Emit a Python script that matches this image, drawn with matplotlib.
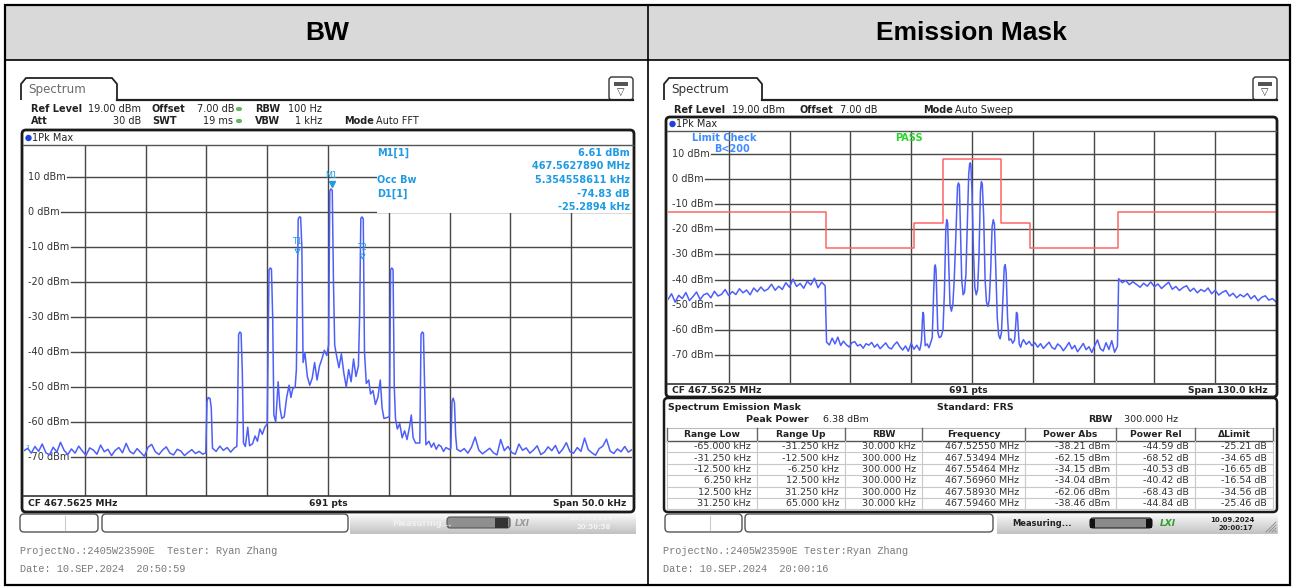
import matplotlib
matplotlib.use("Agg")
import matplotlib.pyplot as plt
import numpy as np
from matplotlib.colors import LinearSegmentedColormap
from matplotlib.patches import FancyBboxPatch, Rectangle, Circle, Polygon
from matplotlib.transforms import blended_transform_factory

W, H = 1294, 587
GRID = "#474747"
TRACE = "#4d5ff8"
INFO = "#1e9be3"
LIMIT = "#ff6464"
SANS = "DejaVu Sans"
MONO = "Liberation Mono"

level_ticks = [10, 0, -10, -20, -30, -40, -50, -60, -70]
ref_level, bottom_level = 19, -81

# ---------- BW screen: offsets in kHz from CF 467.5625 MHz ----------
bw_span_khz = 50.0
bw_left_run_khz = (-25.0, -10.3)
bw_left_run_dbm = [
    -68.2, -67.5, -68.9, -67.0, -68.4, -66.3, -68.8, -69.4, -67.2, -68.6,
    -65.8, -68.1, -69.3, -67.7, -68.9, -66.9, -68.3, -69.5, -67.4, -68.0,
    -69.2, -66.6, -68.5, -67.8, -69.6, -68.1, -67.3, -68.8, -66.1, -68.4,
    -69.1, -67.6, -68.7, -69.8, -67.2, -66.4, -68.5, -69.3, -68.0, -67.1,
    -68.9, -69.4, -67.8, -68.3, -69.6, -68.7, -67.9, -69.0, -68.4, -69.2,
]
bw_core_khz = [
    -10.05, -9.95, -9.85, -9.7, -9.6, -9.5,
    -9.2, -8.9, -8.6, -8.3, -8.0, -7.7, -7.5,
    -7.45, -7.35, -7.25, -7.15, -7.05, -6.95,
    -6.8, -6.6, -6.45, -6.2, -6.0, -5.8, -5.6, -5.4, -5.2, -5.0,
    -4.95, -4.85, -4.75, -4.65, -4.55, -4.45,
    -4.3, -4.1, -3.95, -3.8, -3.6, -3.4, -3.2, -3.05, -2.9, -2.7,
    -2.6, -2.45, -2.35, -2.25, -2.15, -2.05,
    -1.9, -1.7, -1.5, -1.3, -1.1, -0.9, -0.7, -0.5, -0.3, -0.1,
    0.05, 0.15, 0.25, 0.35, 0.45, 0.55,
    0.7, 0.9, 1.1, 1.3, 1.5, 1.7, 1.9, 2.1, 2.3, 2.5,
    2.6, 2.7, 2.8, 2.9, 3.0,
    3.15, 3.35, 3.5, 3.7, 3.9, 4.1, 4.3, 4.45, 4.6,
    5.05, 5.15, 5.25, 5.35, 5.45, 5.55,
    5.7, 5.9, 6.1, 6.3, 6.5, 6.7, 6.85, 7.0, 7.2,
    7.55, 7.65, 7.75, 7.85, 7.95, 8.05,
    8.3, 8.5, 8.7, 8.9, 9.1, 9.3, 9.5, 9.7, 10.0,
    10.1, 10.2, 10.3, 10.4, 10.5, 10.6,
]
bw_core_dbm = [
    -68.8, -54.0, -53.0, -53.3, -56.0, -67.5,
    -68.4, -66.9, -68.1, -67.3, -68.6, -67.4, -67.0,
    -60.0, -35.0, -34.3, -34.6, -45.0, -66.0,
    -67.0, -61.5, -66.8, -66.2, -64.0, -65.5, -62.0, -63.5, -61.5, -60.5,
    -45.0, -16.5, -16.0, -16.3, -30.0, -58.0,
    -60.0, -48.5, -56.0, -59.0, -58.5, -53.0, -49.5, -53.0, -50.5, -50.0,
    -45.0, -2.0, -1.4, -1.5, -10.0, -43.0,
    -40.2, -47.0, -49.5, -47.5, -43.0, -48.0, -44.0, -42.0, -39.5, -41.0,
    -38.0, 6.0, 6.61, 6.2, -20.0, -38.0,
    -41.0, -44.5, -40.5, -46.0, -50.0, -45.0, -48.5, -42.0, -47.0, -44.0,
    -30.0, -1.8, -1.4, -2.0, -40.0,
    -49.0, -48.0, -52.0, -51.0, -55.0, -53.0, -48.0, -56.0, -59.0,
    -58.5, -16.5, -16.0, -16.5, -50.0, -59.0,
    -62.0, -60.5, -64.5, -62.5, -65.0, -61.5, -58.0, -64.5, -66.0,
    -66.0, -35.0, -34.3, -34.6, -50.0, -66.5,
    -65.5, -67.2, -66.0, -67.8, -66.5, -67.0, -68.4, -67.3, -67.9,
    -67.5, -54.0, -53.2, -54.5, -64.0, -67.8,
]
bw_right_run_khz = (10.9, 25.0)
bw_right_run_dbm = [
    -68.4, -67.6, -68.9, -67.2, -64.3, -68.0, -69.1, -68.3, -67.5, -68.8,
    -69.4, -65.0, -68.2, -67.0, -68.7, -69.2, -66.3, -68.1, -67.4, -68.9,
    -68.0, -66.8, -69.3, -68.6, -67.1, -68.2, -66.7, -69.0, -67.8, -65.9,
    -68.5, -68.9, -67.3, -68.4, -64.6, -67.9, -68.8, -69.5, -67.6, -66.9,
    -64.9, -68.3, -69.0, -67.7, -68.5, -67.0, -68.6, -67.9,
]
bw_m1 = (0.29, 6.61)
bw_t1 = (-2.55, -9.8)
bw_t2 = (2.8, -11.3)
bw_info_left = ["M1[1]", "", "Occ Bw", "D1[1]", ""]
bw_info_right = ["6.61 dBm", "467.5627890 MHz", "5.354558611 kHz", "-74.83 dB", "-25.2894 kHz"]

# ---------- Emission mask screen ----------
sem_span_khz = 130.0
sem_runs_khz = [(-65.0, -31.4), (-31.1, -11.2), (11.0, 31.1), (31.35, 65.0)]
sem_far_left_dbm = [
    -47.8, -45.6, -48.9, -46.2, -47.5, -45.1, -48.3, -46.7, -44.9, -47.9,
    -46.0, -45.4, -47.2, -44.6, -46.5, -45.8, -43.9, -46.3, -44.7, -45.9,
    -43.6, -45.2, -44.1, -46.0, -43.3, -44.8, -42.9, -44.5, -43.7, -41.8,
    -44.2, -42.6, -43.9, -41.2, -43.0, -39.8, -42.7, -41.5, -43.4, -40.6,
    -42.1, -39.4, -43.2, -41.0, -42.4,
]
sem_near_left_dbm = [
    -64.8, -65.9, -63.2, -65.5, -62.8, -66.1, -64.4, -65.8, -66.7, -65.0,
    -64.6, -66.3, -65.7, -67.2, -65.4, -66.0, -64.9, -66.8, -65.6, -67.4,
    -66.2, -65.1, -66.9, -67.5, -65.8, -64.7, -66.6, -67.9, -66.3, -68.4,
    -65.2, -67.6, -66.0, -68.0,
]
sem_core_khz = [
    -11.0, -10.8, -10.6, -10.5, -10.35, -10.2, -10.0,
    -9.6, -9.2, -8.8, -8.5, -8.2, -8.0, -7.85, -7.7, -7.5, -7.3,
    -7.0, -6.6, -6.2, -5.9, -5.6, -5.4, -5.2, -5.0, -4.7,
    -4.4, -4.1, -3.8, -3.4, -3.1, -2.9, -2.7, -2.5, -2.2,
    -1.9, -1.6, -1.3, -1.0, -0.7, -0.5, -0.38, -0.25, 0.0,
    0.3, 0.6, 0.9, 1.2, 1.5, 1.8, 2.0, 2.2, 2.5,
    2.8, 3.1, 3.4, 3.7, 4.0, 4.3, 4.55, 4.8, 5.1,
    5.4, 5.7, 6.0, 6.3, 6.6, 6.9, 7.1, 7.3, 7.6,
    7.9, 8.3, 8.7, 9.1, 9.35, 9.5, 9.7, 9.9, 10.1, 10.4, 10.7,
]
sem_core_dbm = [
    -66.5, -64.0, -56.0, -53.0, -53.5, -60.0, -66.2,
    -65.5, -67.0, -64.8, -63.0, -45.0, -35.0, -34.15, -36.0, -48.0, -61.0,
    -63.0, -62.5, -60.0, -45.0, -20.0, -16.2, -17.5, -32.0, -50.0,
    -52.5, -50.0, -40.0, -20.0, -3.0, -1.6, -2.5, -18.0, -40.0,
    -46.0, -45.0, -38.0, -18.0, 2.0, 6.0, 6.38, 5.5, -5.0,
    -28.0, -43.0, -46.0, -44.0, -30.0, -5.0, -1.1, -2.0, -15.0,
    -40.0, -49.0, -50.6, -48.0, -36.0, -19.0, -16.2, -18.0, -36.0,
    -55.0, -62.0, -63.5, -61.0, -48.0, -35.0, -34.04, -37.0, -55.0,
    -64.0, -63.5, -65.2, -64.0, -58.0, -53.0, -53.5, -60.0, -65.5, -66.8, -64.9,
]
sem_near_right_dbm = [
    -63.8, -65.7, -64.5, -66.2, -65.0, -66.8, -65.4, -67.3, -66.0, -64.8,
    -66.9, -67.6, -65.5, -66.4, -68.2, -66.7, -64.9, -67.5, -66.1, -68.6,
    -67.0, -65.3, -67.8, -66.6, -68.9, -66.2, -63.9, -67.4, -68.3, -65.0,
    -67.7, -64.2, -68.8, -66.4,
]
sem_far_right_dbm = [
    -39.6, -41.2, -40.3, -42.0, -40.8, -41.9, -43.0, -41.4, -42.6, -40.9,
    -42.8, -41.7, -43.5, -42.2, -41.0, -43.8, -42.7, -44.3, -43.1, -42.4,
    -44.6, -43.4, -45.2, -43.9, -44.7, -43.3, -45.6, -44.2, -46.1, -45.0,
    -44.3, -46.5, -45.4, -47.2, -45.9, -46.8, -45.5, -47.6, -46.3, -48.4,
    -47.0, -46.4, -48.1, -47.5, -48.8,
]
sem_limit_khz = [-65, -31.25, -31.25, -12.5, -12.5, -6.25, -6.25, 6.25,
                 6.25, 12.5, 12.5, 31.25, 31.25, 65]
sem_limit_dbm = [-13, -13, -27.5, -27.5, -17.5, -17.5, 7.7, 7.7,
                 -17.5, -17.5, -27.5, -27.5, -13, -13]

# emission mask result table
sem_range_low_khz = [-65.0, -31.25, -12.5, 6.25, 12.5, 31.25]
sem_range_up_khz = [-31.25, -12.5, -6.25, 12.5, 31.25, 65.0]
sem_rbw = ["30.000 kHz", "300.000 Hz", "300.000 Hz", "300.000 Hz", "300.000 Hz", "30.000 kHz"]
sem_freq_mhz = [467.52550, 467.53494, 467.55464, 467.56960, 467.58930, 467.59460]
sem_power_abs = [-38.21, -62.15, -34.15, -34.04, -62.06, -38.46]
sem_power_rel = [-44.59, -68.52, -40.53, -40.42, -68.43, -44.84]
sem_delta_limit = [-25.21, -34.65, -16.65, -16.54, -34.56, -25.46]


def sweep(run, levels):
    return np.linspace(run[0], run[1], len(levels)), np.asarray(levels, float)


fig = plt.figure(figsize=(W / 100, H / 100), dpi=100)
fig.patch.set_facecolor("white")
renderer = fig.canvas.get_renderer()

ax_top = fig.add_axes([0, 0, 1, 1], zorder=5)
ax_top.set_xlim(0, W)
ax_top.set_ylim(H, 0)
ax_top.axis("off")
ax_top.patch.set_alpha(0)


def rect(x0, y0, x1, y1, **kw):
    ax_top.add_patch(Rectangle((x0, y0), x1 - x0, y1 - y0, **kw))


def rbox(x0, y0, x1, y1, r=3, **kw):
    ax_top.add_patch(FancyBboxPatch((x0, y0), x1 - x0, y1 - y0,
                                    boxstyle=f"round,pad=0,rounding_size={r}", **kw))


def txt(x, y, s, size=7, weight="normal", color="#222222", ha="left", family=SANS, **kw):
    ax_top.text(x, y, s, fontsize=size, fontweight=weight, color=color, ha=ha,
                va="center", family=family, **kw)


def spectrum_axes(l, t, r, b, span):
    ax = fig.add_axes([l / W, 1 - b / H, (r - l) / W, (b - t) / H], zorder=2)
    ax.set_xlim(-span / 2, span / 2)
    ax.set_ylim(bottom_level, ref_level)
    ax.set_xticks([])
    ax.set_yticks([])
    for s in ax.spines.values():
        s.set_visible(False)
    for k in range(1, 10):
        ax.axvline(-span / 2 + k * span / 10, color=GRID, lw=1.0, zorder=1)
    tr = blended_transform_factory(ax.transAxes, ax.transData)
    for lv in level_ticks:
        t_ = ax.text(0.007, lv, f"{lv} dBm", transform=tr, fontsize=7, color="#333333",
                     va="center", ha="left", zorder=2)
        bb = t_.get_window_extent(renderer)
        x_end = ax.transAxes.inverted().transform((bb.x1 + 1, 0))[0]
        ax.plot([x_end, 1], [lv, lv], transform=tr, color=GRID, lw=1.0, zorder=1)
    return ax


# ---------- table frame ----------
rect(5, 5, 1290, 60, facecolor="#d9d9d9", edgecolor="none", zorder=0)
rect(5, 5, 1290, 585, facecolor="none", edgecolor="black", lw=1.6)
ax_top.plot([5, 1290], [60, 60], color="black", lw=1.2)
ax_top.plot([648, 648], [5, 585], color="black", lw=1.2)
txt(327, 33, "BW", size=19, weight="bold", color="black", ha="center", family="Liberation Sans")
txt(971, 33, "Emission Mask", size=19, weight="bold", color="black", ha="center",
    family="Liberation Sans")

gradient = LinearSegmentedColormap.from_list("bar", ["#fbfbfb", "#c2c2c2"])


def screen_chrome(x0, x1, tab_right, tab_color):
    # tab + window top line + icon
    ax_top.add_patch(Polygon([(x0 - 1, 100), (x0 - 1, 84), (x0 + 4, 78), (tab_right - 5, 78),
                              (tab_right, 84), (tab_right, 100)], closed=False,
                             fill=False, edgecolor="#222222", lw=1.3))
    ax_top.plot([tab_right, x1], [100, 100], color="#222222", lw=1.6)
    txt(x0 + 6, 89, "Spectrum", size=8.6, color=tab_color)
    rbox(x1 - 24, 77, x1, 100, r=3, facecolor="white", edgecolor="#333333", lw=1.0)
    rect(x1 - 19, 82, x1 - 5, 86, facecolor="#555555", edgecolor="none")
    txt(x1 - 12, 92, "\u25bd", size=7, color="#333333", ha="center")


# ================= left: BW =================
screen_chrome(22, 633, 117, "#6b6b6b")
hdr_y1, hdr_y2 = 109, 121
txt(31, hdr_y1, "Ref Level", weight="bold")
txt(88, hdr_y1, "19.00 dBm")
txt(152, hdr_y1, "Offset", weight="bold")
txt(197, hdr_y1, "7.00 dB")
txt(255, hdr_y1, "RBW", weight="bold")
txt(288, hdr_y1, "100 Hz")
txt(31, hdr_y2, "Att", weight="bold")
txt(141, hdr_y2, "30 dB", ha="right")
txt(152, hdr_y2, "SWT", weight="bold")
txt(233, hdr_y2, "19 ms", ha="right")
txt(255, hdr_y2, "VBW", weight="bold")
txt(295, hdr_y2, "1 kHz")
txt(344, hdr_y2, "Mode", weight="bold")
txt(376, hdr_y2, "Auto FFT")
for yy in (hdr_y1, hdr_y2):
    ax_top.add_patch(FancyBboxPatch((236, yy - 2), 6, 4, boxstyle="round,pad=0,rounding_size=2",
                                    facecolor="#5fb85f", edgecolor="none"))

rbox(22, 130, 634, 512, r=4, facecolor="none", edgecolor="#1a1a1a", lw=2.0)
ax_top.plot([23, 633], [144.5, 144.5], color="#555555", lw=1.0)
ax_top.add_patch(Circle((28.5, 138), 3.2, facecolor="#1f3fe0", edgecolor="none"))
txt(32.5, 138, "1Pk Max", size=7)
ax_top.plot([23, 633], [496, 496], color="#333333", lw=1.2)
txt(28, 503.5, "CF 467.5625 MHz", size=6.6, weight="bold")
txt(328, 503.5, "691 pts", size=6.6, weight="bold", ha="center")
txt(626, 503.5, "Span 50.0 kHz", size=6.6, weight="bold", ha="right")

ax_bw = spectrum_axes(24, 145.5, 632, 495.5, bw_span_khz)
fl, vl = sweep(bw_left_run_khz, bw_left_run_dbm)
fr, vr = sweep(bw_right_run_khz, bw_right_run_dbm)
bw_f = np.concatenate([fl, bw_core_khz, fr])
bw_v = np.concatenate([vl, bw_core_dbm, vr])
ax_bw.plot(bw_f, bw_v, color=TRACE, lw=1.1, zorder=3)
ax_bw.plot([bw_m1[0]], [bw_m1[1] + 1.3], marker="v", ms=4.5, color=INFO, zorder=4)
ax_bw.text(bw_m1[0], bw_m1[1] + 2.6, "M1", fontsize=5.8, color=INFO, ha="center", va="bottom", zorder=4)
for lbl, (mf, mv) in (("T1", bw_t1), ("T2", bw_t2)):
    ax_bw.text(mf, mv, lbl, fontsize=5.8, color=INFO, ha="center", va="bottom", zorder=4)
    ax_bw.plot([mf], [mv - 1.3], marker="v", ms=3.5, mfc="none", mec=INFO, mew=0.7, zorder=4)
ax_bw.text(0.002, -68.2, "1", fontsize=5, color=INFO, ha="left", va="bottom",
           transform=blended_transform_factory(ax_bw.transAxes, ax_bw.transData), zorder=4)

# marker readout box
rect(377, 145.8, 631.5, 212.8, facecolor="white", edgecolor="none", zorder=1)
for i, (a, b) in enumerate(zip(bw_info_left, bw_info_right)):
    yy = 152.5 + i * 13.7
    if a:
        txt(377, yy, a, size=7, weight="bold", color=INFO)
    txt(630, yy, b, size=7, weight="bold", color=INFO, ha="right")

# status bar
ax_top.imshow(np.linspace(0, 1, 24)[:, None], extent=(350, 636, 534, 513), cmap=gradient,
              aspect="auto", zorder=0.5)
rbox(20, 514, 98, 532, r=4, facecolor="white", edgecolor="#555555", lw=1.0)
ax_top.plot([65, 65], [516, 530], color="#cccccc", lw=0.8)
rbox(102, 514, 348, 532, r=4, facecolor="white", edgecolor="#555555", lw=1.0)
txt(392, 523, "Measuring...", size=6, weight="bold", color="#f0f0f0")
rbox(447, 517, 510, 528, r=3, facecolor="#8f8f8f", edgecolor="#555555", lw=0.8)
rect(495, 517.5, 508, 527.5, facecolor="#333333", edgecolor="none")
txt(522, 523, "LXI", size=6, weight="bold", color="#999999", ha="center", style="italic")
txt(590, 518, "10.09.2024", size=5, weight="bold", color="#f4f4f4", ha="center")
txt(594, 527, "20:50:58", size=5, weight="bold", color="#f4f4f4", ha="center")

txt(20, 550.5, "ProjectNo.:2405W23590E  Tester: Ryan Zhang", size=7.4, color="#7a7a7a", family=MONO)
txt(20, 568.5, "Date: 10.SEP.2024  20:50:59", size=7.4, color="#7a7a7a", family=MONO)

# ================= right: Emission mask =================
screen_chrome(665, 1277, 762, "#333333")
txt(674, 110, "Ref Level", weight="bold")
txt(732, 110, "19.00 dBm")
txt(800, 110, "Offset", weight="bold")
txt(840, 110, "7.00 dB")
txt(923, 110, "Mode", weight="bold")
txt(955, 110, "Auto Sweep")

rbox(666, 117, 1277, 397, r=4, facecolor="none", edgecolor="#1a1a1a", lw=2.0)
ax_top.plot([667, 1276], [130.5, 130.5], color="#555555", lw=1.0)
ax_top.add_patch(Circle((672.5, 124), 3.2, facecolor="#1f3fe0", edgecolor="none"))
txt(676.5, 124, "1Pk Max", size=7)
ax_top.plot([667, 1276], [383.5, 383.5], color="#333333", lw=1.2)
txt(672, 390.5, "CF 467.5625 MHz", size=6.6, weight="bold")
txt(968, 390.5, "691 pts", size=6.6, weight="bold", ha="center")
txt(1268, 390.5, "Span 130.0 kHz", size=6.6, weight="bold", ha="right")

ax_sem = spectrum_axes(668, 131, 1276, 383, sem_span_khz)
run_lists = [sem_far_left_dbm, sem_near_left_dbm, sem_near_right_dbm, sem_far_right_dbm]
parts = [sweep(r_, l_) for r_, l_ in zip(sem_runs_khz, run_lists)]
sem_f = np.concatenate([parts[0][0], parts[1][0], sem_core_khz, parts[2][0], parts[3][0]])
sem_v = np.concatenate([parts[0][1], parts[1][1], sem_core_dbm, parts[2][1], parts[3][1]])
ax_sem.plot(sem_limit_khz, sem_limit_dbm, color=LIMIT, lw=1.1, zorder=3)
ax_sem.plot(sem_f, sem_v, color=TRACE, lw=1.1, zorder=4)
txt(692, 138, "Limit Check", size=7, weight="bold", color="#3f8cff")
txt(895, 138, "PASS", size=7, weight="bold", color="#2bd42b")
txt(714, 149, "B<200", size=7, weight="bold", color="#3f8cff")

# emission mask result panel
rbox(664, 398, 1277, 512, r=4, facecolor="white", edgecolor="#1a1a1a", lw=1.8)
txt(668, 407, "Spectrum Emission Mask", size=6.8, weight="bold")
txt(937, 407, "Standard: FRS", size=6.8, weight="bold")
txt(746, 420, "Peak Power", size=6.8, weight="bold")
txt(823, 420, "6.38 dBm", size=6.8)
txt(1088, 420, "RBW", size=6.8, weight="bold")
txt(1124, 420, "300.000 Hz", size=6.8)

col_edges = [667, 757, 845, 922, 1025, 1116, 1195, 1273]
col_heads = ["Range Low", "Range Up", "RBW", "Frequency", "Power Abs", "Power Rel", "\u0394Limit"]
ax_top.plot([667, 1273], [427.5, 427.5], color="#bbbbbb", lw=0.8)
ax_top.plot([667, 1273], [441, 441], color="#555555", lw=1.0)
for x in col_edges:
    ax_top.plot([x, x], [428, 441], color="#666666", lw=1.0)
    ax_top.plot([x, x], [441, 509], color="#c8c8c8", lw=0.8)
for i, h in enumerate(col_heads):
    txt((col_edges[i] + col_edges[i + 1]) / 2, 434.5, h, size=6.6, weight="bold", ha="center")
row_h = 11.35
for r_ in range(6):
    yc = 446.8 + r_ * row_h
    ax_top.plot([667, 1273], [yc + row_h / 2, yc + row_h / 2], color="#c8c8c8", lw=0.8)
    cells = [f"{sem_range_low_khz[r_]:.3f} kHz", f"{sem_range_up_khz[r_]:.3f} kHz", sem_rbw[r_],
             f"{sem_freq_mhz[r_]:.5f} MHz", f"{sem_power_abs[r_]:.2f} dBm",
             f"{sem_power_rel[r_]:.2f} dB", f"{sem_delta_limit[r_]:.2f} dB"]
    for c, s in enumerate(cells):
        txt(col_edges[c + 1] - 6, yc, s, size=6.8, color="#333333", ha="right")

# status bar
ax_top.imshow(np.linspace(0, 1, 24)[:, None], extent=(997, 1278, 534, 513), cmap=gradient,
              aspect="auto", zorder=0.5)
rbox(665, 514, 742, 532, r=4, facecolor="white", edgecolor="#555555", lw=1.0)
ax_top.plot([710, 710], [516, 530], color="#cccccc", lw=0.8)
rbox(745, 514, 993, 532, r=4, facecolor="white", edgecolor="#555555", lw=1.0)
txt(1012, 524, "Measuring...", size=6, weight="bold", color="#222222")
rbox(1090, 518, 1152, 528, r=3, facecolor="#8a8a8a", edgecolor="#222222", lw=0.8)
rect(1090, 518.5, 1095, 527.5, facecolor="#111111", edgecolor="none")
rect(1146, 518.5, 1152, 527.5, facecolor="#111111", edgecolor="none")
txt(1168, 523, "LXI", size=6.5, weight="bold", color="#2f9e2f", ha="center", style="italic")
txt(1232, 520, "10.09.2024", size=5, weight="bold", color="#222222", ha="center")
txt(1236, 528, "20:00:17", size=5, weight="bold", color="#222222", ha="center")
for k in range(4):
    ax_top.plot([1266 + 3 * k, 1276], [532, 522 + 3 * k], color="#888888", lw=0.6)

txt(663, 551, "ProjectNo.:2405W23590E Tester:Ryan Zhang", size=7.4, color="#7a7a7a", family=MONO)
txt(663, 568.5, "Date: 10.SEP.2024  20:00:16", size=7.4, color="#7a7a7a", family=MONO)

fig.savefig("out.png", dpi=100, facecolor="white")
